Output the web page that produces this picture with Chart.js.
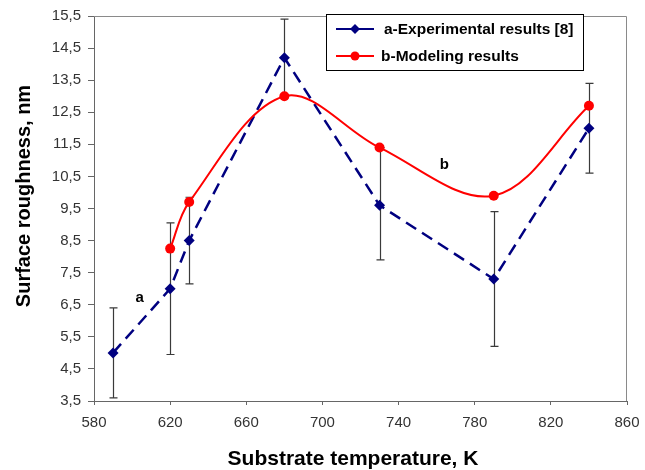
<!DOCTYPE html>
<html>
<head>
<meta charset="utf-8">
<script src="https://cdn.jsdelivr.net/npm/chart.js@4/dist/chart.umd.min.js"></script>
<style>
  html, body { margin: 0; padding: 0; background: #fff; }
  #wrap { width: 645px; height: 470px; }
</style>
</head>
<body>
<div id="wrap"><canvas id="roughness"></canvas></div>
<script>
// substrate temperature, K
var expTemps = [590, 620, 630, 680, 730, 790, 840];
var expRough = [5.0, 7.0, 8.5, 14.2, 9.6, 7.3, 12.0];
var expLow = [3.6, 4.95, 7.15, 13.0, 7.9, 5.2, 10.6];
var expHigh = [6.4, 9.05, 9.85, 15.4, 11.4, 9.4, 13.4];

var modTemps = [620, 630, 680, 730, 790, 840];
var modRough = [8.25, 9.7, 13.0, 11.4, 9.9, 12.7];

var xTicks = [580, 620, 660, 700, 740, 780, 820, 860];
var yTicks = [3.5, 4.5, 5.5, 6.5, 7.5, 8.5, 9.5, 10.5, 11.5, 12.5, 13.5, 14.5, 15.5];

var xTitle = 'Substrate temperature, K';
var yTitle = 'Surface roughness, nm';

// curve tags: [x, y, text]
var curveTags = [[604, 6.7, 'a'], [764, 10.85, 'b']];

var FONT = 'Arial, "Liberation Sans", sans-serif';

function pairs(xs, ys) {
  return xs.map(function (x, i) { return { x: x, y: ys[i] }; });
}

function fmt(v) {
  return String(v).replace('.', ',');
}

var plotFrame = {
  id: 'plotFrame',
  beforeDatasetsDraw: function (chart) {
    var a = chart.chartArea, ctx = chart.ctx;
    ctx.save();
    ctx.strokeStyle = '#8a8a8a';
    ctx.lineWidth = 1;
    ctx.beginPath();
    ctx.moveTo(a.left, a.top + 0.5);
    ctx.lineTo(a.right - 0.5, a.top + 0.5);
    ctx.lineTo(a.right - 0.5, a.bottom);
    ctx.stroke();
    ctx.restore();
  }
};

var errorBars = {
  id: 'errorBars',
  beforeDatasetsDraw: function (chart) {
    var xs = chart.scales.x, ys = chart.scales.y, ctx = chart.ctx;
    ctx.save();
    ctx.strokeStyle = '#3a3a3a';
    ctx.lineWidth = 1.2;
    expTemps.forEach(function (t, i) {
      var px = Math.round(xs.getPixelForValue(t)) + 0.5;
      var y1 = ys.getPixelForValue(expLow[i]);
      var y2 = ys.getPixelForValue(expHigh[i]);
      ctx.beginPath();
      ctx.moveTo(px, y1);
      ctx.lineTo(px, y2);
      ctx.moveTo(px - 4, y1);
      ctx.lineTo(px + 4, y1);
      ctx.moveTo(px - 4, y2);
      ctx.lineTo(px + 4, y2);
      ctx.stroke();
    });
    ctx.restore();
  }
};

var labelsAndLegend = {
  id: 'labelsAndLegend',
  afterDraw: function (chart) {
    var xs = chart.scales.x, ys = chart.scales.y, ctx = chart.ctx;
    ctx.save();
    ctx.fillStyle = '#000';
    ctx.textAlign = 'center';
    ctx.textBaseline = 'middle';

    // axis titles, sitting a little off the plot centre
    ctx.font = 'bold 21px ' + FONT;
    ctx.fillText(xTitle, 353, 459);
    ctx.save();
    ctx.translate(24, 196);
    ctx.rotate(-Math.PI / 2);
    ctx.font = 'bold 20px ' + FONT;
    ctx.fillText(yTitle, 0, 0);
    ctx.restore();

    ctx.font = 'bold 15px ' + FONT;
    curveTags.forEach(function (c) {
      ctx.fillText(c[2], xs.getPixelForValue(c[0]), ys.getPixelForValue(c[1]));
    });

    // legend box
    var bx = 326, by = 14, bw = 257, bh = 56;
    ctx.fillStyle = '#fff';
    ctx.fillRect(bx, by, bw, bh);
    ctx.strokeStyle = '#000';
    ctx.lineWidth = 1;
    ctx.strokeRect(bx + 0.5, by + 0.5, bw, bh);
    ctx.textAlign = 'left';
    ctx.font = 'bold 15.5px ' + FONT;
    chart.data.datasets.forEach(function (ds, i) {
      var y = by + 15 + i * 27;
      ctx.strokeStyle = ds.borderColor;
      ctx.lineWidth = 2;
      ctx.setLineDash([]);
      ctx.beginPath();
      ctx.moveTo(bx + 10, y);
      ctx.lineTo(bx + 48, y);
      ctx.stroke();
      ctx.fillStyle = ds.pointBackgroundColor;
      ctx.beginPath();
      if (ds.pointStyle === 'rectRot') {
        ctx.moveTo(bx + 29, y - 5);
        ctx.lineTo(bx + 34, y);
        ctx.lineTo(bx + 29, y + 5);
        ctx.lineTo(bx + 24, y);
      } else {
        ctx.arc(bx + 29, y, 4.5, 0, Math.PI * 2);
      }
      ctx.closePath();
      ctx.fill();
      ctx.fillStyle = '#000';
      ctx.fillText(ds.label, bx + (i === 0 ? 58 : 55), y + 1);
    });
    ctx.restore();
  }
};

var ctx = document.getElementById('roughness').getContext('2d');
var roughnessChart = new Chart(ctx, {
  type: 'line',
  data: {
    datasets: [{
      label: 'a-Experimental results [8]',
      data: pairs(expTemps, expRough),
      borderColor: '#000080',
      backgroundColor: '#000080',
      borderWidth: 2.5,
      borderDash: [12, 7],
      pointStyle: 'rectRot',
      pointRadius: 5.5,
      pointBackgroundColor: '#000080',
      pointBorderColor: '#000080',
      pointBorderWidth: 0,
      tension: 0,
      order: 2
    }, {
      label: 'b-Modeling results',
      data: pairs(modTemps, modRough),
      borderColor: '#ff0000',
      backgroundColor: '#ff0000',
      borderWidth: 2,
      pointStyle: 'circle',
      pointRadius: 5,
      pointBackgroundColor: '#ff0000',
      pointBorderColor: '#ff0000',
      pointBorderWidth: 0,
      tension: 0.35,
      order: 1
    }]
  },
  options: {
    responsive: true,
    maintainAspectRatio: false,
    animation: false,
    layout: { padding: { left: 0, right: 18, top: 16, bottom: 0 } },
    plugins: {
      legend: { display: false },
      tooltip: { enabled: false }
    },
    scales: {
      x: {
        type: 'linear',
        min: 580,
        max: 860,
        afterBuildTicks: function (axis) {
          axis.ticks = xTicks.map(function (v) { return { value: v }; });
        },
        afterFit: function (axis) {
          axis.height = 69;
          axis.paddingLeft = 0;
          axis.paddingRight = 0;
        },
        ticks: {
          color: '#333',
          font: { family: FONT, size: 15 },
          padding: 9,
          maxRotation: 0,
          callback: function (v) { return String(v); }
        },
        grid: {
          drawOnChartArea: false,
          drawTicks: true,
          tickLength: 4,
          color: '#666'
        },
        border: { color: '#666', width: 1 },
        title: { display: false }
      },
      y: {
        type: 'linear',
        min: 3.5,
        max: 15.5,
        afterBuildTicks: function (axis) {
          axis.ticks = yTicks.map(function (v) { return { value: v }; });
        },
        afterFit: function (axis) {
          axis.width = 94;
          axis.paddingTop = 0;
          axis.paddingBottom = 0;
        },
        ticks: {
          color: '#333',
          font: { family: FONT, size: 15 },
          padding: 7,
          callback: function (v) { return fmt(v); }
        },
        grid: {
          drawOnChartArea: false,
          drawTicks: true,
          tickLength: 6,
          color: '#666'
        },
        border: { color: '#666', width: 1 },
        title: { display: false }
      }
    }
  },
  plugins: [plotFrame, errorBars, labelsAndLegend]
});
</script>
</body>
</html>
